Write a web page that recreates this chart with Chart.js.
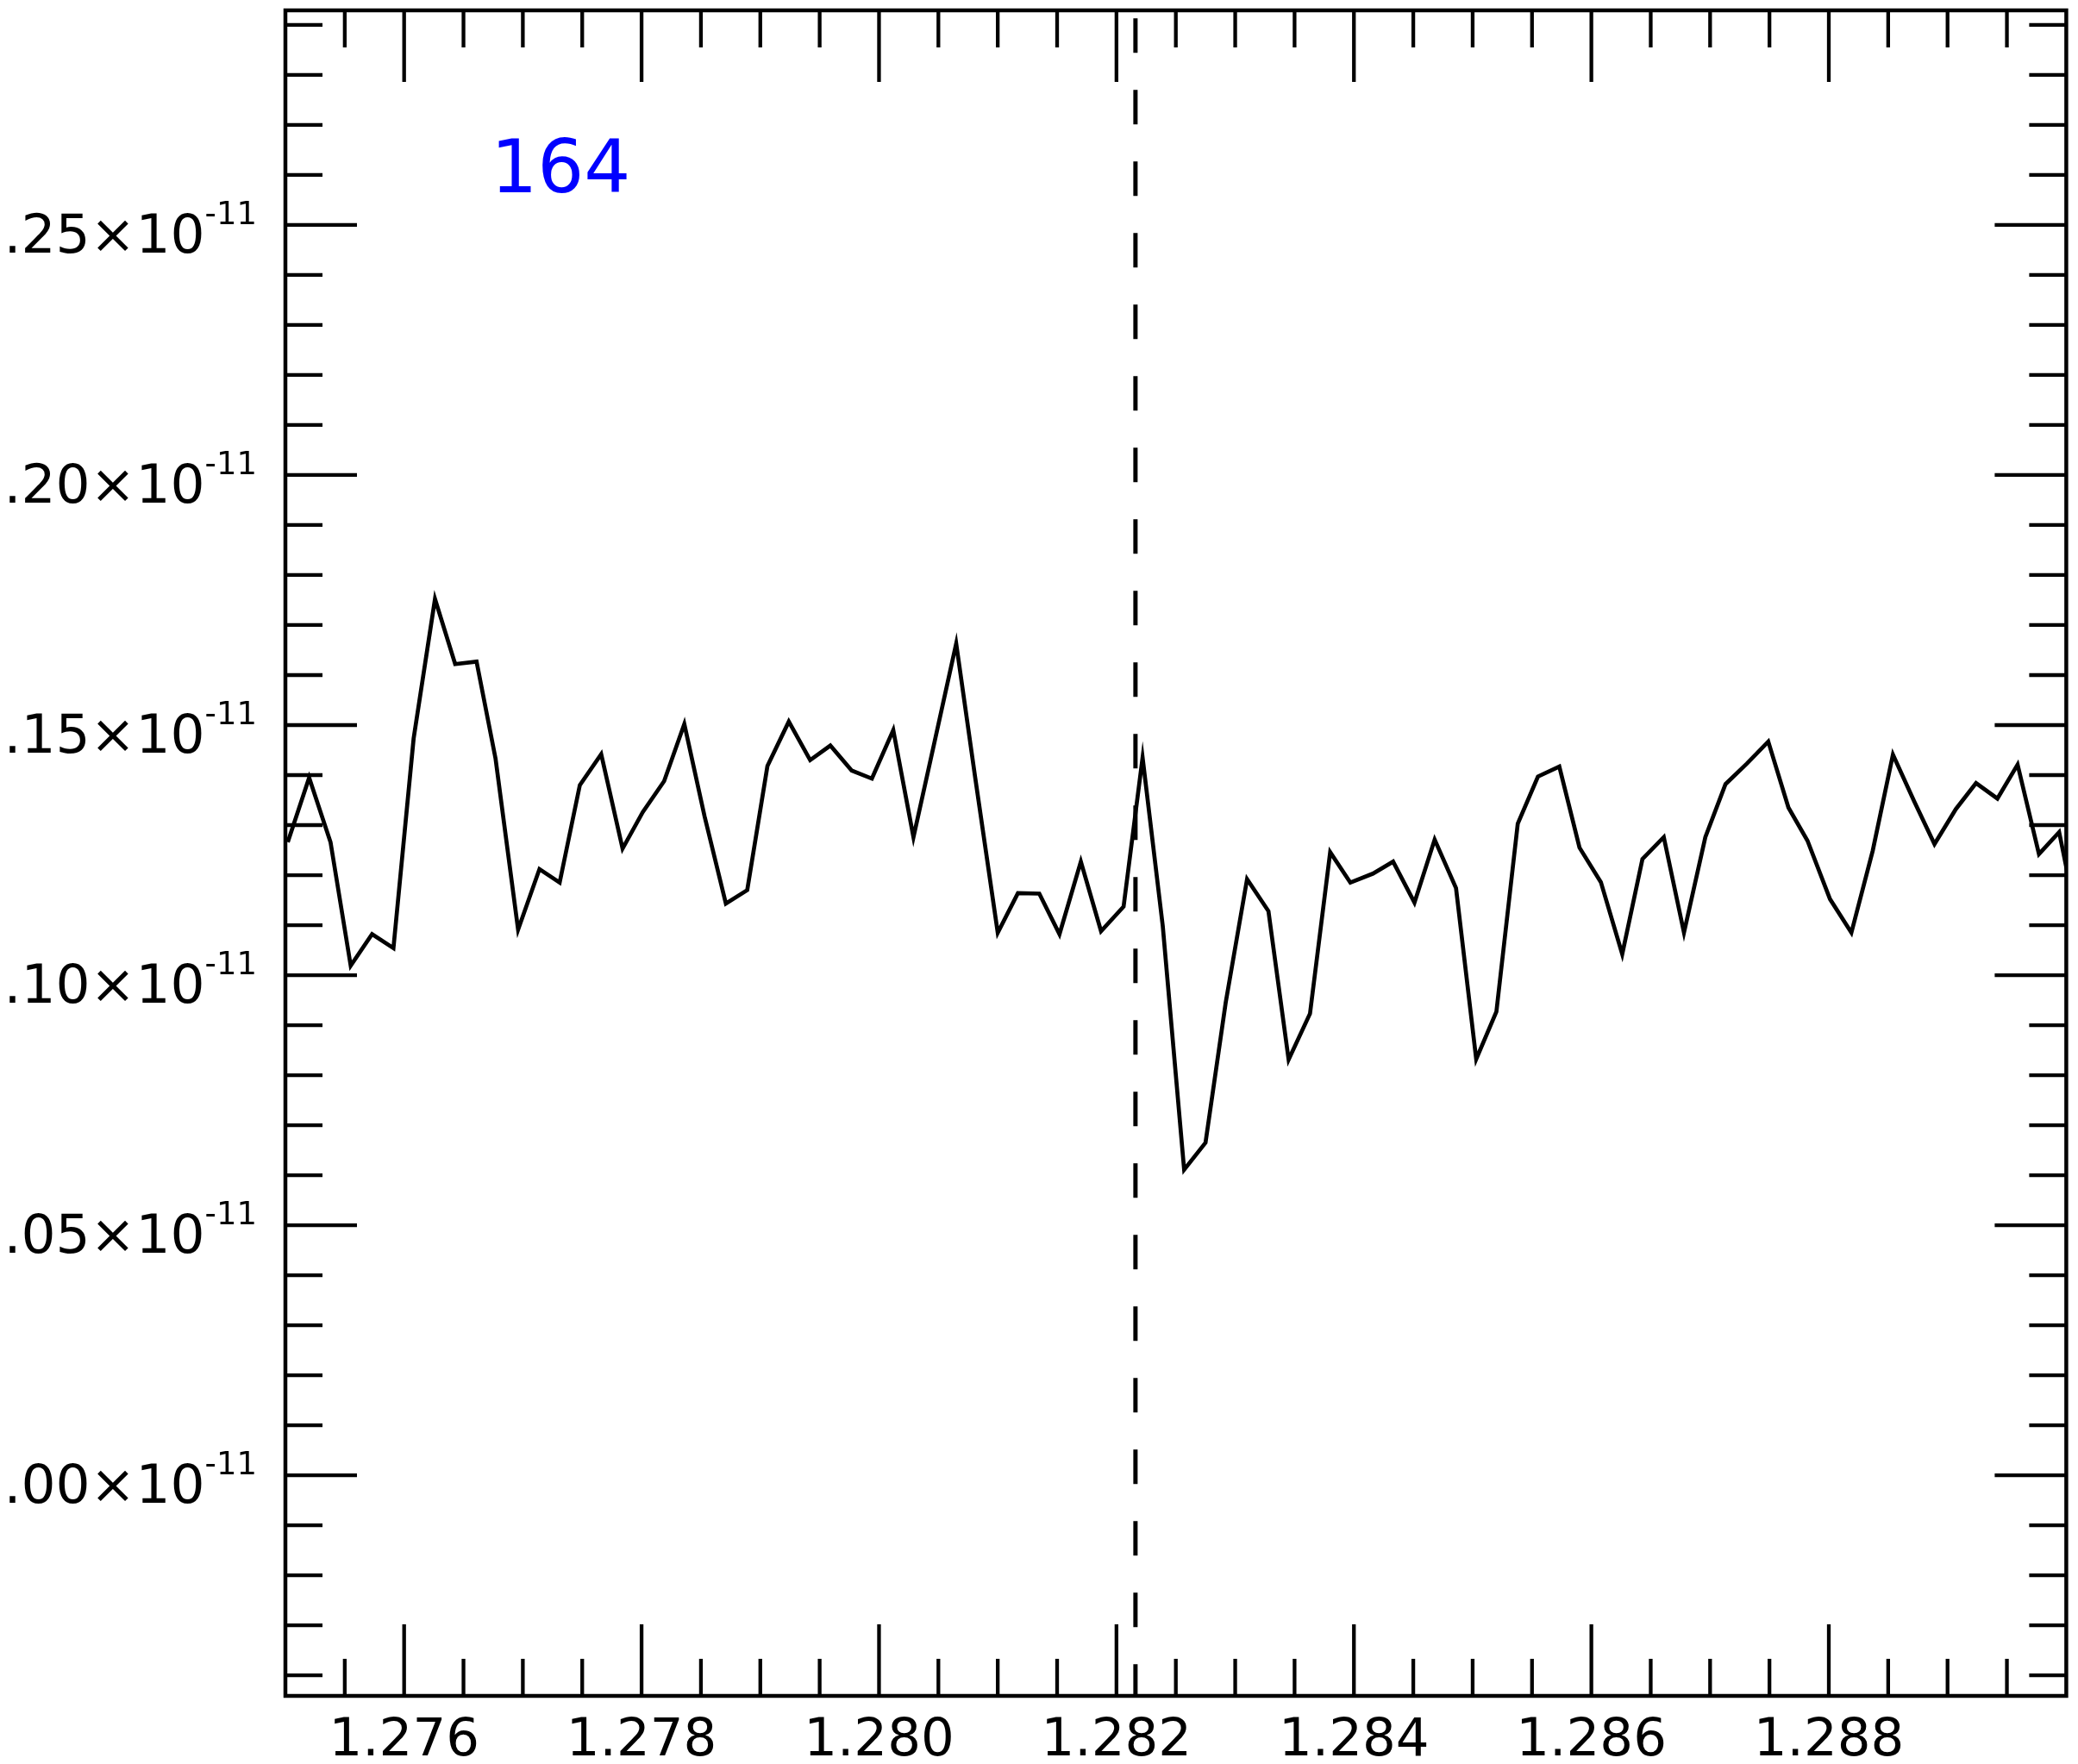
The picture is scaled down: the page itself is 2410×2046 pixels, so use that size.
<!DOCTYPE html>
<html>
<head>
<meta charset="utf-8">
<script src="https://cdn.jsdelivr.net/npm/chart.js@4"></script>
<style>
  html, body { margin: 0; padding: 0; background: #fff; }
  canvas { display: block; }
</style>
</head>
<body>
<canvas id="spec" width="2410" height="2046"></canvas>
<script>
// wavelength (micron) and flux (in units of 1e-11)
const wavelength = [
  1.27502, 1.27520, 1.27538, 1.27555, 1.27573, 1.27591, 1.27608, 1.27626, 1.27643, 1.27661,
  1.27677, 1.27696, 1.27714, 1.27731, 1.27748, 1.27766, 1.27784, 1.27801,
  1.27819, 1.27836, 1.27853, 1.27871, 1.27889, 1.27906, 1.27924, 1.27942, 1.27959, 1.27977,
  1.27994, 1.28012, 1.28029, 1.28047, 1.28065, 1.28081, 1.28100,
  1.28117, 1.28135, 1.28152, 1.28170, 1.28187, 1.28206, 1.28222, 1.28239, 1.28257, 1.28275,
  1.28292, 1.28310, 1.28328, 1.28345, 1.28363, 1.28380, 1.28397,
  1.28416, 1.28433, 1.28451, 1.28468, 1.28486, 1.28503, 1.28520, 1.28538, 1.28555, 1.28573,
  1.28590, 1.28608, 1.28626, 1.28643, 1.28661, 1.28678, 1.28696, 1.28713,
  1.28731, 1.28749, 1.28766, 1.28782, 1.28801, 1.28819, 1.28837, 1.28854, 1.28872, 1.28889,
  1.28907, 1.28924, 1.28942, 1.28959, 1.28977, 1.28994, 1.29012
];
const flux = [
  1.1266, 1.1395, 1.1266, 1.1019, 1.1082, 1.1054, 1.1473, 1.1752, 1.1622, 1.1627,
  1.1433, 1.1091, 1.1212, 1.1185, 1.1380, 1.1442, 1.1253, 1.1326,
  1.1388, 1.1502, 1.1318, 1.1143, 1.1170, 1.1418, 1.1507, 1.1430, 1.1459, 1.1409,
  1.1393, 1.1490, 1.1276, 1.1469, 1.1663, 1.1395, 1.1085,
  1.1164, 1.1163, 1.1082, 1.1227, 1.1088, 1.1137, 1.1435, 1.1098, 1.0611, 1.0665,
  1.0945, 1.1192, 1.1128, 1.0831, 1.0923, 1.1246, 1.1185,
  1.1203, 1.1227, 1.1145, 1.1271, 1.1174, 1.0832, 1.0927, 1.1303, 1.1397, 1.1417,
  1.1255, 1.1186, 1.1042, 1.1232, 1.1276, 1.1085, 1.1276, 1.1382,
  1.1423, 1.1467, 1.1335, 1.1269, 1.1152, 1.1085, 1.1249, 1.1441, 1.1347, 1.1262,
  1.1332, 1.1384, 1.1353, 1.1421, 1.1242, 1.1286, 1.1076
];

const xMajorTicks = [1.276, 1.278, 1.280, 1.282, 1.284, 1.286, 1.288];
const yMajorTicks = [1.00, 1.05, 1.10, 1.15, 1.20, 1.25];
const yExponent = '-11';
const xRange = [1.275, 1.290];
const yRange = [0.9559, 1.2929];
const lineCenter = 1.28216;      // dashed marker
const panelLabel = '164';
const panelLabelAt = [1.27673, 1.2566];

const xMinorStep = 0.0005;
const yMinorStep = 0.01;

// frame with inward ticks on all four sides, y labels with exponent, blue label
const framePlugin = {
  id: 'frame',
  afterDatasetsDraw(chart) {
    const ctx = chart.ctx;
    const a = chart.chartArea;
    const xs = chart.scales.x, ys = chart.scales.y;
    const major = 83, minor = 43;
    ctx.save();
    ctx.strokeStyle = '#000';
    ctx.lineCap = 'butt';
    ctx.lineWidth = 4.3;
    ctx.beginPath();
    const nx = Math.round((xRange[1] - xRange[0]) / xMinorStep);
    for (let i = 1; i < nx; i++) {
      const v = xRange[0] + i * xMinorStep;
      const isMajor = xMajorTicks.some(t => Math.abs(t - v) < 1e-7);
      const len = isMajor ? major : minor;
      const px = xs.getPixelForValue(v);
      ctx.moveTo(px, a.bottom); ctx.lineTo(px, a.bottom - len);
      ctx.moveTo(px, a.top); ctx.lineTo(px, a.top + len);
    }
    const i0 = Math.ceil(yRange[0] / yMinorStep), i1 = Math.floor(yRange[1] / yMinorStep);
    for (let i = i0; i <= i1; i++) {
      const v = i * yMinorStep;
      const len = i % 5 === 0 ? major : minor;
      const py = ys.getPixelForValue(v);
      ctx.moveTo(a.left, py); ctx.lineTo(a.left + len, py);
      ctx.moveTo(a.right, py); ctx.lineTo(a.right - len, py);
    }
    ctx.stroke();
    ctx.lineWidth = 4.5;
    ctx.strokeRect(a.left, a.top, a.right - a.left, a.bottom - a.top);

    // y tick labels: mantissa x 10 with raised exponent
    ctx.fillStyle = '#000';
    ctx.textBaseline = 'alphabetic';
    const right = a.left - 33;
    ctx.font = '37px "DejaVu Sans"';
    const supW = ctx.measureText(yExponent).width;
    ys.ticks.forEach(t => {
      const py = ys.getPixelForValue(t.value);
      ctx.font = '63px "DejaVu Sans"';
      ctx.textAlign = 'right';
      ctx.fillText(t.value.toFixed(2) + '×10', right - supW, py + 32);
      ctx.font = '37px "DejaVu Sans"';
      ctx.textAlign = 'left';
      ctx.fillText(yExponent, right - supW, py - 1);
    });

    ctx.fillStyle = '#0000ff';
    ctx.font = '85px "DejaVu Sans"';
    ctx.textAlign = 'left';
    ctx.fillText(panelLabel, xs.getPixelForValue(panelLabelAt[0]), ys.getPixelForValue(panelLabelAt[1]));
    ctx.restore();
  }
};

new Chart(document.getElementById('spec'), {
  type: 'line',
  data: {
    datasets: [{
      data: wavelength.map((w, i) => ({ x: w, y: flux[i] })),
      borderColor: '#000',
      borderWidth: 4.7,
      pointRadius: 0,
      tension: 0,
      clip: 0
    }, {
      data: [{ x: lineCenter, y: yRange[1] }, { x: lineCenter, y: yRange[0] }],
      borderColor: '#000',
      borderWidth: 5,
      borderDash: [40, 43],
      borderDashOffset: 73.7,
      pointRadius: 0,
      clip: 0
    }]
  },
  options: {
    responsive: false,
    devicePixelRatio: 1,
    animation: false,
    layout: { padding: { top: 12, right: 13.6, left: 0, bottom: 0 } },
    plugins: { legend: { display: false }, tooltip: { enabled: false } },
    scales: {
      x: {
        type: 'linear',
        min: xRange[0],
        max: xRange[1],
        grid: { display: false, drawTicks: false },
        border: { display: false },
        afterBuildTicks: s => { s.ticks = xMajorTicks.map(v => ({ value: v })); },
        afterFit: s => {
          s.height = 79;
          s.paddingLeft = 0; s.paddingRight = 0; s.paddingTop = 0; s.paddingBottom = 0;
        },
        ticks: {
          color: '#000',
          font: { family: 'DejaVu Sans', size: 61 },
          padding: 17,
          maxRotation: 0,
          autoSkip: false,
          callback: v => v.toFixed(3)
        }
      },
      y: {
        type: 'linear',
        min: yRange[0],
        max: yRange[1],
        grid: { display: false, drawTicks: false },
        border: { display: false },
        afterBuildTicks: s => { s.ticks = yMajorTicks.map(v => ({ value: v })); },
        afterFit: s => {
          s.width = 331;
          s.paddingLeft = 0; s.paddingRight = 0; s.paddingTop = 0; s.paddingBottom = 0;
        },
        ticks: { display: false }
      }
    }
  },
  plugins: [framePlugin]
});
</script>
</body>
</html>
